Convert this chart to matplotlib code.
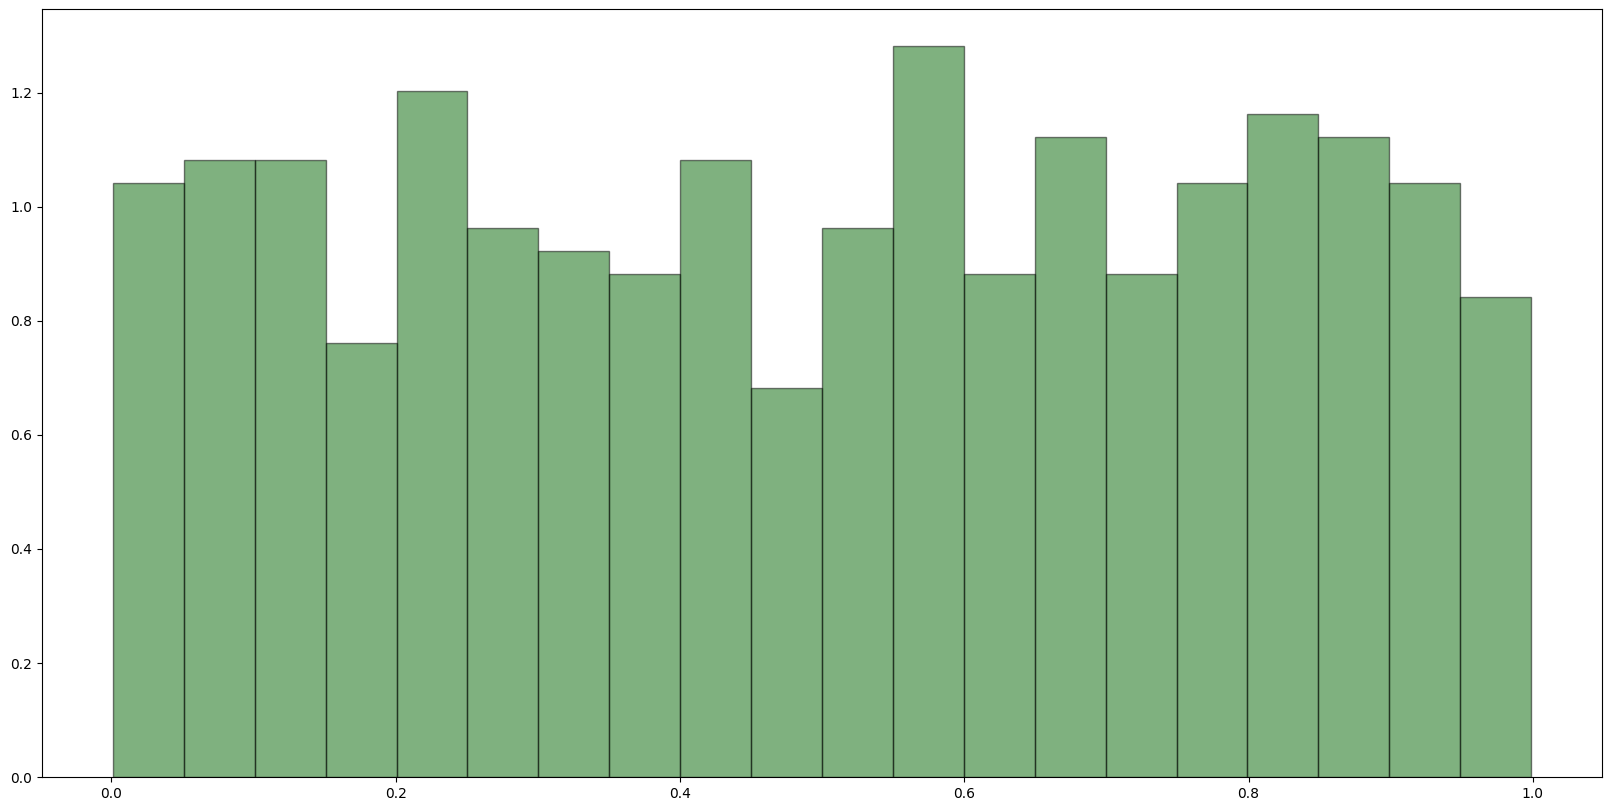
import matplotlib
matplotlib.use("Agg")
import matplotlib.pyplot as plt
import numpy as np

# bin edges (20 bins over the sample range) and counts per bin (n = 500)
data_min, data_max = 0.0011, 0.9987
bin_edges = np.linspace(data_min, data_max, 21)
counts = [26, 27, 27, 19, 30, 24, 23, 22, 27, 17,
          24, 32, 22, 28, 22, 26, 29, 28, 26, 21]

centers = (bin_edges[:-1] + bin_edges[1:]) / 2

fig = plt.figure(figsize=(16.11, 8.11), dpi=100)
ax = fig.add_axes([0.0261, 0.0419, 0.9944 - 0.0261, 0.9889 - 0.0419])
ax.hist(centers, bins=bin_edges, weights=counts, density=True,
        color='darkgreen', alpha=0.5, edgecolor='black')
fig.savefig("out.png", dpi=100)
